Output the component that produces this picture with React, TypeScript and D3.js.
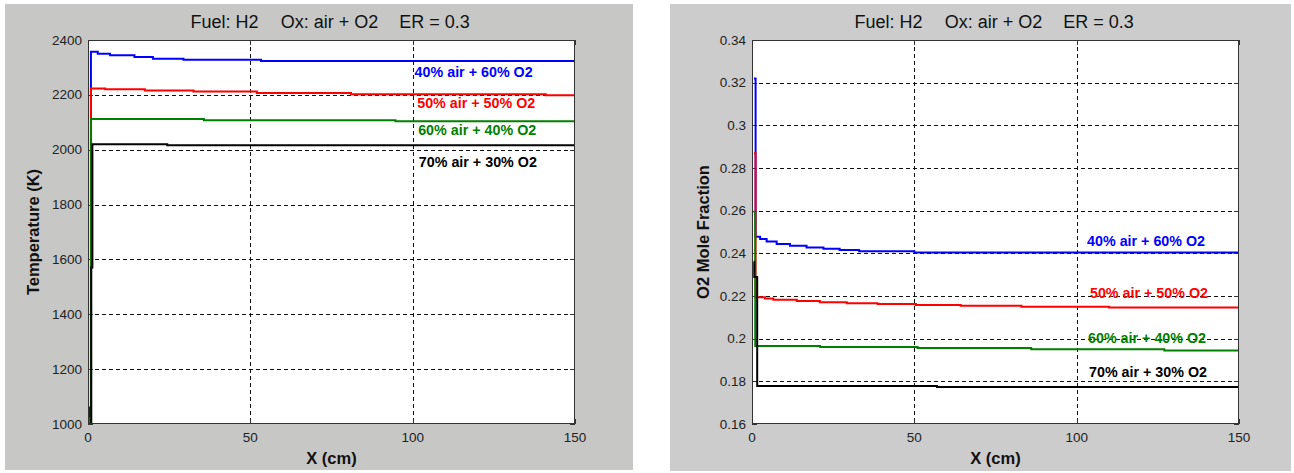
import React from "react";
import * as d3 from "d3";

// shared axis values
const xTicks = [0, 50, 100, 150];
const xTickLabels = ["0", "50", "100", "150"];

const tempTicks = [1000, 1200, 1400, 1600, 1800, 2000, 2200, 2400];
const tempTickLabels = ["1000", "1200", "1400", "1600", "1800", "2000", "2200", "2400"];

const o2Ticks = [0.16, 0.18, 0.2, 0.22, 0.24, 0.26, 0.28, 0.3, 0.32, 0.34];
const o2TickLabels = ["0.16", "0.18", "0.2", "0.22", "0.24", "0.26", "0.28", "0.3", "0.32", "0.34"];

const seriesNames = ["40% air + 60% O2", "50% air + 50% O2", "60% air + 40% O2", "70% air + 30% O2"];
const seriesColors = ["#0000ff", "#ff0000", "#008000", "#000000"];

const titleParts = ["Fuel: H2", "Ox: air + O2", "ER = 0.3"];

// temperature (K) vs X (cm)
const tempX40 = [0.2, 0.5, 0.9, 3, 6.8, 14.3, 20, 29.4, 53.3, 150];
const tempY40 = [1000, 1060, 2357, 2350, 2344, 2338, 2332, 2328, 2323, 2323];
const tempX50 = [0.2, 0.5, 0.9, 5.3, 17.5, 32.5, 52, 81, 141, 150];
const tempY50 = [1000, 1020, 2223, 2220, 2216, 2212, 2207, 2202, 2199, 2199];
const tempX60 = [0.2, 0.95, 35.7, 94.7, 150];
const tempY60 = [1000, 2112, 2107, 2104, 2104];
const tempX70 = [0.1, 1.0, 1.35, 24.4, 150];
const tempY70 = [1000, 1571, 2020, 2016, 2016];

const tempLabelX = [100.6, 101.4, 101.7, 101.9];
const tempLabelY = [2265, 2152, 2054, 1937];

// O2 mole fraction vs X (cm)
const o2X40 = [0.6, 1.1, 2.5, 4.5, 7.6, 11.7, 16.8, 22, 27, 33, 50, 150];
const o2Y40 = [0.322, 0.2478, 0.2467, 0.2455, 0.2444, 0.2435, 0.2427, 0.2421, 0.2416, 0.241, 0.2404, 0.2404];
const o2X50 = [0.6, 1.1, 4.0, 6.6, 13.8, 20.9, 29.2, 38.7, 50.5, 64.3, 83, 110, 150];
const o2Y50 = [0.2869, 0.2194, 0.2188, 0.2182, 0.2176, 0.2171, 0.2166, 0.2162, 0.2158, 0.2154, 0.215, 0.2146, 0.2143];
const o2X60 = [0.5, 1.0, 21, 51, 86, 127, 150];
const o2Y60 = [0.2595, 0.1966, 0.1961, 0.1956, 0.195, 0.1944, 0.1944];
const o2X70 = [0.5, 0.7, 1.6, 57, 150];
const o2Y70 = [0.2361, 0.2289, 0.1778, 0.1773, 0.1773];

const o2LabelX = [103.2, 104.1, 103.5, 103.8];
const o2LabelY = [0.2436, 0.2189, 0.1978, 0.1822];

const FONT = "'Liberation Sans', Arial, Helvetica, sans-serif";

type PanelProps = {
  id: string;
  bg: { x: number; y: number; w: number; h: number; fill: string };
  box: { x0: number; x1: number; y0: number; y1: number };
  yDomain: [number, number];
  yTicks: number[];
  yTickLabels: string[];
  yLabel: string;
  yLabelX: number;
  xs: number[][];
  ys: number[][];
  labelX: number[];
  labelY: number[];
};

function Panel(p: PanelProps) {
  const { box } = p;
  const x = d3.scaleLinear().domain([0, 150]).range([box.x0, box.x1]);
  const y = d3.scaleLinear().domain(p.yDomain).range([box.y1, box.y0]);
  const cx = (box.x0 + box.x1) / 2;
  const tick = 5;
  const px = (v: number) => Math.round(x(v)) + 0.5;
  const py = (v: number) => Math.round(y(v)) + 0.5;

  return (
    <g fontFamily={FONT}>
      <rect x={p.bg.x} y={p.bg.y} width={p.bg.w} height={p.bg.h} fill={p.bg.fill} />
      <rect x={box.x0} y={box.y0} width={box.x1 - box.x0} height={box.y1 - box.y0} fill="#fff" />
      <clipPath id={p.id}>
        <rect x={box.x0} y={box.y0} width={box.x1 - box.x0} height={box.y1 - box.y0} />
      </clipPath>

      {/* grid */}
      <g stroke="#111" strokeWidth={1} strokeDasharray="4,3">
        {xTicks.slice(1, -1).map((t) => (
          <line key={"gx" + t} x1={px(t)} x2={px(t)} y1={box.y0} y2={box.y1} />
        ))}
        {p.yTicks.slice(1, -1).map((t) => (
          <line key={"gy" + t} x1={box.x0} x2={box.x1} y1={py(t)} y2={py(t)} />
        ))}
      </g>

      {/* ticks inside, all four sides */}
      <g stroke="#333" strokeWidth={1}>
        {xTicks.map((t) => (
          <g key={"tx" + t}>
            <line x1={px(t)} x2={px(t)} y1={box.y1} y2={box.y1 - tick} />
            <line x1={px(t)} x2={px(t)} y1={box.y0} y2={box.y0 + tick} />
          </g>
        ))}
        {p.yTicks.map((t) => (
          <g key={"ty" + t}>
            <line x1={box.x0} x2={box.x0 + tick} y1={py(t)} y2={py(t)} />
            <line x1={box.x1} x2={box.x1 - tick} y1={py(t)} y2={py(t)} />
          </g>
        ))}
      </g>

      {/* series */}
      <g clipPath={`url(#${p.id})`} fill="none" strokeWidth={2}>
        {p.ys.map((vals, i) => {
          const xsI = p.xs[i];
          const line = d3
            .line<number>()
            .x((_, j) => x(xsI[j]))
            .y((d) => y(d))
            .curve(d3.curveStepAfter);
          return <path key={i} d={line(vals) || ""} stroke={seriesColors[i]} />;
        })}
      </g>

      {/* series labels */}
      {seriesNames.map((n, i) => (
        <text
          key={n}
          x={x(p.labelX[i])}
          y={y(p.labelY[i])}
          fill={seriesColors[i]}
          fontSize={14.3}
          fontWeight="bold"
        >
          {n}
        </text>
      ))}

      {/* box */}
      <rect
        x={box.x0 + 0.5}
        y={box.y0 + 0.5}
        width={box.x1 - box.x0 - 1}
        height={box.y1 - box.y0 - 1}
        fill="none"
        stroke="#333"
        strokeWidth={1}
      />

      {/* tick labels */}
      <g fontSize={13.5} fill="#222">
        {xTicks.map((t, i) => (
          <text key={"lx" + t} x={x(t)} y={box.y1 + 18} textAnchor="middle">
            {xTickLabels[i]}
          </text>
        ))}
        {p.yTicks.map((t, i) => (
          <text key={"ly" + t} x={box.x0 - 6} y={y(t)} textAnchor="end" dominantBaseline="central">
            {p.yTickLabels[i]}
          </text>
        ))}
      </g>

      {/* title */}
      <g fontSize={18} fill="#111">
        {titleParts.map((s, i) => (
          <text key={s} x={cx + (i - 1) * 105 - 2} y={28} textAnchor="middle">
            {s}
          </text>
        ))}
      </g>

      {/* axis labels */}
      <text x={cx} y={box.y1 + 40} textAnchor="middle" fontSize={16.5} fontWeight="bold" fill="#111">
        X (cm)
      </text>
      <text
        transform={`translate(${p.yLabelX},${(box.y0 + box.y1) / 2}) rotate(-90)`}
        textAnchor="middle"
        dominantBaseline="central"
        fontSize={16.5}
        fontWeight="bold"
        fill="#111"
      >
        {p.yLabel}
      </text>
    </g>
  );
}

export default function App() {
  return (
    <div style={{ position: "absolute", left: 0, top: 0 }}>
      <svg width={1294} height={473} style={{ display: "block" }}>
        <rect width={1294} height={473} fill="#fff" />
        <Panel
          id="clipT"
          bg={{ x: 5, y: 4, w: 628, h: 466, fill: "#c7c8c6" }}
          box={{ x0: 88, x1: 575, y0: 40, y1: 424 }}
          yDomain={[1000, 2400]}
          yTicks={tempTicks}
          yTickLabels={tempTickLabels}
          yLabel="Temperature (K)"
          yLabelX={33}
          xs={[tempX40, tempX50, tempX60, tempX70]}
          ys={[tempY40, tempY50, tempY60, tempY70]}
          labelX={tempLabelX}
          labelY={tempLabelY}
        />
        <Panel
          id="clipO"
          bg={{ x: 670, y: 4, w: 621, h: 467, fill: "#cccccc" }}
          box={{ x0: 752, x1: 1239, y0: 40, y1: 424 }}
          yDomain={[0.16, 0.34]}
          yTicks={o2Ticks}
          yTickLabels={o2TickLabels}
          yLabel="O2 Mole Fraction"
          yLabelX={703}
          xs={[o2X40, o2X50, o2X60, o2X70]}
          ys={[o2Y40, o2Y50, o2Y60, o2Y70]}
          labelX={o2LabelX}
          labelY={o2LabelY}
        />
      </svg>
    </div>
  );
}
